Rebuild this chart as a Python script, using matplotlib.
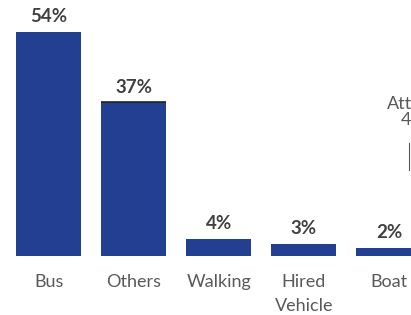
import matplotlib.pyplot as plt
import numpy as np

# Data
modes = ["Bus", "Others", "Walking", "Hired\nVehicle", "Boat"]
share = np.array([54, 37, 4, 3, 2])  # %

bar_color = "#223f91"
label_font = ["Lato", "DejaVu Sans"]

fig = plt.figure(figsize=(4.11, 3.15), dpi=100)
ax = fig.add_axes([0, 59 / 315, 1, 256 / 315])

x = np.arange(len(modes))
w = 0.765
ax.bar(x, share, width=w, color=bar_color)
# thin dark top edge on the "Others" bar
ax.hlines(share[1], x[1] - w / 2, x[1] + w / 2, color="#222222", lw=1.2)

for xi, v in zip(x, share):
    ax.annotate(f"{v}%", (xi, v), xytext=(0, 5), textcoords="offset points",
                ha="center", va="bottom", fontsize=13.5, fontweight="bold",
                color="#404040", family=label_font)

ax.set_xlim(-0.576, 4.26)
ax.set_ylim(0, 61.7)
ax.set_xticks(x)
ax.set_xticklabels(modes, fontsize=13, color="#595959", family=label_font,
                   linespacing=1.6, va="top")
ax.tick_params(axis="x", length=0, pad=13)
ax.set_yticks([])
for s in ax.spines.values():
    s.set_visible(False)

# partly visible annotation at the right edge
fig.text(387 / 411, 1 - 109 / 315, "Att", fontsize=13, color="#595959",
         family=label_font, ha="left", va="baseline")
fig.text(401 / 411, 1 - 125 / 315, "4", fontsize=13, color="#595959",
         family=label_font, ha="left", va="baseline")
fig.add_artist(plt.Line2D([409 / 411, 409 / 411], [1 - 143 / 315, 1 - 170 / 315],
                          color="#595959", lw=0.8))

fig.savefig("out.png", dpi=100)
